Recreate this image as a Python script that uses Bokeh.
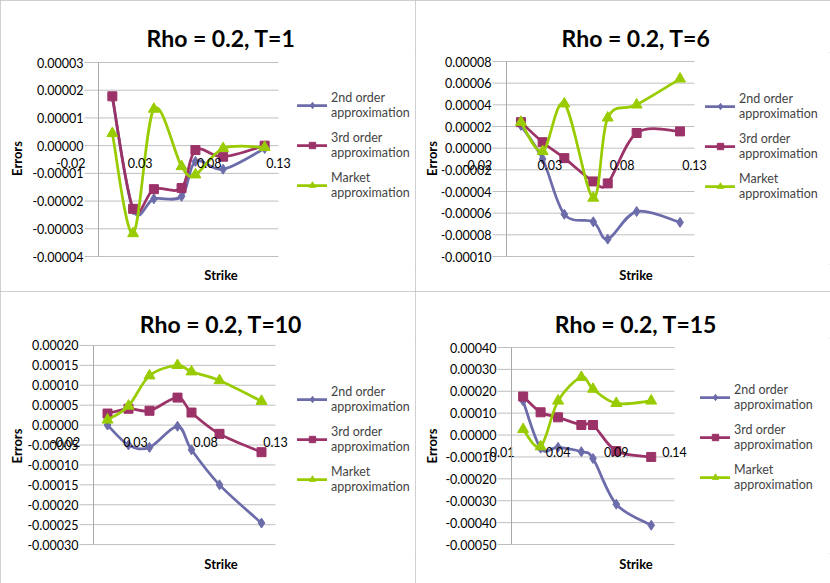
import math
from bokeh.plotting import figure
from bokeh.models import (Range1d, FixedTicker, NumeralTickFormatter, Legend, LegendItem,
                          LinearAxis)
from bokeh.layouts import gridplot
from bokeh.embed import file_html
from bokeh.resources import INLINE

# ---------------- data ----------------
strikes = [0.01, 0.025, 0.04, 0.06, 0.07, 0.09, 0.12]
series_labels = ["2nd order\napproximation", "3rd order\napproximation", "Market\napproximation"]

titles = ["Rho = 0.2, T=1", "Rho = 0.2, T=6", "Rho = 0.2, T=10", "Rho = 0.2, T=15"]

# T=1
t1_second = [1.75e-5, -2.31e-5, -1.92e-5, -1.83e-5, -0.57e-5, -0.85e-5, -0.10e-5]
t1_third = [1.78e-5, -2.28e-5, -1.57e-5, -1.53e-5, -0.16e-5, -0.40e-5, 0.0]
t1_market = [0.44e-5, -3.17e-5, 1.32e-5, -0.75e-5, -1.05e-5, -0.10e-5, -0.06e-5]
# T=6
t6_second = [2.1e-5, -1.0e-5, -6.1e-5, -6.8e-5, -8.4e-5, -5.85e-5, -6.85e-5]
t6_third = [2.4e-5, 0.55e-5, -0.92e-5, -3.07e-5, -3.25e-5, 1.4e-5, 1.55e-5]
t6_market = [2.4e-5, -0.3e-5, 4.1e-5, -4.6e-5, 2.8e-5, 4.0e-5, 6.4e-5]
# T=10
t10_second = [0.0, -5.0e-5, -5.6e-5, -0.3e-5, -6.2e-5, -1.5e-4, -2.46e-4]
t10_third = [2.9e-5, 4.1e-5, 3.6e-5, 6.9e-5, 3.15e-5, -2.2e-5, -6.8e-5]
t10_market = [1.3e-5, 4.8e-5, 1.24e-4, 1.5e-4, 1.34e-4, 1.12e-4, 6.0e-5]
# T=15
t15_second = [1.56e-4, -0.6e-4, -0.56e-4, -0.76e-4, -1.07e-4, -3.16e-4, -4.12e-4]
t15_third = [1.76e-4, 1.04e-4, 0.81e-4, 0.46e-4, 0.46e-4, -0.73e-4, -1.0e-4]
t15_market = [0.26e-4, -0.53e-4, 1.56e-4, 2.64e-4, 2.1e-4, 1.45e-4, 1.56e-4]

# tick values
t1_yticks = [-4e-5, -3e-5, -2e-5, -1e-5, 0.0, 1e-5, 2e-5, 3e-5]
t6_yticks = [-1e-4, -8e-5, -6e-5, -4e-5, -2e-5, 0.0, 2e-5, 4e-5, 6e-5, 8e-5]
t10_yticks = [-3e-4, -2.5e-4, -2e-4, -1.5e-4, -1e-4, -5e-5, 0.0, 5e-5, 1e-4, 1.5e-4, 2e-4]
t15_yticks = [-5e-4, -4e-4, -3e-4, -2e-4, -1e-4, 0.0, 1e-4, 2e-4, 3e-4, 4e-4]
xticks_a = [-0.02, 0.03, 0.08, 0.13]
xticks_b = [-0.01, 0.04, 0.09, 0.14]

# ---------------- styling ----------------
COLORS = ["#6C6CAA", "#9B3268", "#99CC00"]
MARKERS = ["diamond", "square", "triangle"]
MSIZE = [10, 9, 11]
FONT = "Lato"
GRID = "#BFBFBF"
W = 415

# pixel layout per panel (canvas-local):
# ax0 = pixel of x=0, axr = pixel of last x tick, T/B = pixels of top/bottom y tick,
# FT/FB = frame top/bottom, leg = legend glyph-x, first-line-y
FL, FR = 26, W
layouts = [
    dict(H=291, ax0=98, axr=278, T=62, B=256, FT=52, FB=264, leg=(297, 97)),
    dict(H=291, ax0=91, axr=279, T=61, B=256, FT=52, FB=264, leg=(290, 98)),
    dict(H=292, ax0=93, axr=275, T=54, B=255, FT=47, FB=264, leg=(297, 102)),
    dict(H=292, ax0=96, axr=259, T=56, B=253, FT=47, FB=262, leg=(285, 98)),
]


def bezier_data(xs, ys):
    n = len(xs)
    d = dict(x0=[], y0=[], x1=[], y1=[], cx0=[], cy0=[], cx1=[], cy1=[])
    for i in range(n - 1):
        xp, yp = (xs[i - 1], ys[i - 1]) if i > 0 else (xs[i], ys[i])
        xn, yn = (xs[i + 2], ys[i + 2]) if i + 2 < n else (xs[i + 1], ys[i + 1])
        d["x0"].append(xs[i]); d["y0"].append(ys[i])
        d["x1"].append(xs[i + 1]); d["y1"].append(ys[i + 1])
        d["cx0"].append(xs[i] + (xs[i + 1] - xp) / 6.0)
        d["cy0"].append(ys[i] + (ys[i + 1] - yp) / 6.0)
        d["cx1"].append(xs[i + 1] - (xn - xs[i]) / 6.0)
        d["cy1"].append(ys[i + 1] - (yn - ys[i]) / 6.0)
    return d


def make_panel(title, series, yticks, xticks, lay):
    H = lay["H"]
    ax0, axr, T, B, FT, FB = lay["ax0"], lay["axr"], lay["T"], lay["B"], lay["FT"], lay["FB"]
    xmax = xticks[-1]
    ymin, ymax = yticks[0], yticks[-1]
    xs = (axr - ax0) / xmax
    ys = (B - T) / (ymax - ymin)
    x_range = Range1d(-(ax0 - FL) / xs, xmax + (FR - axr) / xs)
    y_range = Range1d(ymin - (FB - B) / ys, ymax + (T - FT) / ys)

    p = figure(width=W, height=H, output_backend="svg", toolbar_location=None,
               x_range=x_range, y_range=y_range, title=title,
               min_border_left=FL, min_border_right=W - FR, min_border_top=FT,
               min_border_bottom=H - FB)
    p.outline_line_color = None
    p.background_fill_color = "white"
    p.border_fill_color = "white"
    p.styles = {"outline": "1px solid #BFBFBF", "outline-offset": "-1px"}

    p.title.align = "center"
    p.title.text_font = FONT
    p.title.text_font_size = "23px"
    p.title.text_font_style = "bold"
    p.title.text_color = "black"
    p.title.standoff = 2
    p.title.vertical_align = "bottom"

    xa = p.xaxis[0]
    ya = p.yaxis[0]
    xa.fixed_location = 0
    ya.fixed_location = 0
    xa.bounds = (xticks[0], xticks[-1])
    ya.bounds = (ymin, ymax)
    for ax in (xa, ya):
        ax.major_tick_out = 0
        ax.major_tick_in = 0
        ax.minor_tick_out = 0
        ax.minor_tick_in = 0
        ax.major_label_text_font = FONT
        ax.major_label_text_font_size = "12.5px"
        ax.major_label_text_color = "black"
    xa.ticker = FixedTicker(ticks=xticks)
    ya.ticker = FixedTicker(ticks=yticks)
    xa.formatter = NumeralTickFormatter(format="0.00")
    ya.formatter = NumeralTickFormatter(format="0.00000")
    xa.axis_line_color = None
    ya.axis_line_color = "#A8A8A8"
    xa.major_label_standoff = 12
    ya.major_label_standoff = 15
    p.xgrid.visible = False
    p.ygrid.visible = False

    # axis titles on label-only axes at the panel edges
    ey = LinearAxis(ticker=FixedTicker(ticks=[]), axis_label="Errors", bounds=(ymin, ymax),
                    axis_line_color=None, major_label_text_font_size="0px",
                    major_tick_out=0, major_tick_in=0, minor_tick_out=0, minor_tick_in=0,
                    axis_label_standoff=2, axis_label_text_font=FONT,
                    axis_label_text_font_size="13px", axis_label_text_font_style="bold",
                    axis_label_text_color="black")
    p.add_layout(ey, "left")
    ex = LinearAxis(ticker=FixedTicker(ticks=[]), axis_label="Strike", bounds=(0, xmax),
                    axis_line_color=None, major_label_text_font_size="0px",
                    major_tick_out=0, major_tick_in=0, minor_tick_out=0, minor_tick_in=0,
                    axis_label_standoff=2, axis_label_text_font=FONT,
                    axis_label_text_font_size="13px", axis_label_text_font_style="bold",
                    axis_label_text_color="black")
    p.add_layout(ex, "below")

    # horizontal gridlines from the tick values
    gx0 = -14.0 / xs
    p.segment(x0=[gx0] * len(yticks), x1=[xmax] * len(yticks), y0=yticks, y1=yticks,
              line_color=GRID, line_width=1, level="underlay")

    items = []
    for k, yv in enumerate(series):
        br = p.bezier(line_color=COLORS[k], line_width=2.75, line_cap="round",
                      **bezier_data(strikes, yv))
        sr = p.scatter(strikes, yv, marker=MARKERS[k], size=MSIZE[k],
                       fill_color=COLORS[k], line_color=COLORS[k])
        items.append(LegendItem(label=series_labels[k], renderers=[br, sr]))

    legend_h = 3 * 32 + 2 * 8
    gx, fy = lay["leg"]
    legend = Legend(items=items, location=(gx - FL, FB - (fy - 8) - legend_h),
                    padding=0, spacing=8, margin=0, glyph_width=30, glyph_height=16,
                    label_height=32, label_standoff=4, label_text_font=FONT,
                    label_text_font_size="12.5px", label_text_line_height=1.33,
                    border_line_color=None, background_fill_alpha=0)
    p.add_layout(legend)
    return p


p1 = make_panel(titles[0], [t1_second, t1_third, t1_market], t1_yticks, xticks_a, layouts[0])
p2 = make_panel(titles[1], [t6_second, t6_third, t6_market], t6_yticks, xticks_a, layouts[1])
p3 = make_panel(titles[2], [t10_second, t10_third, t10_market], t10_yticks, xticks_a, layouts[2])
p4 = make_panel(titles[3], [t15_second, t15_third, t15_market], t15_yticks, xticks_b, layouts[3])

grid = gridplot([[p1, p2], [p3, p4]], toolbar_location=None)
open("out.html", "w").write(file_html(grid, INLINE))
